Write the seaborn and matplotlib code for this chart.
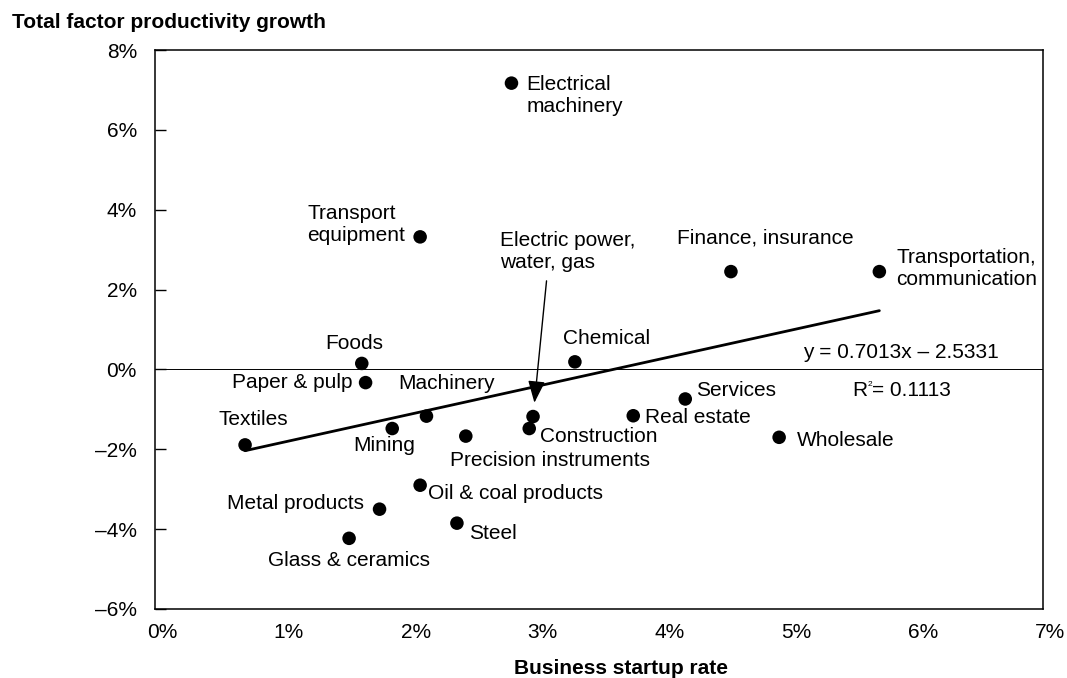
import numpy as np
import pandas as pd
import matplotlib
matplotlib.use("Agg")
import matplotlib.pyplot as plt
from matplotlib.ticker import FuncFormatter
from matplotlib.transforms import ScaledTranslation
import seaborn as sns

# Industry-level data (percent)
industries = [
    "Electrical\nmachinery", "Transport\nequipment", "Electric power,\nwater, gas",
    "Finance, insurance", "Transportation,\ncommunication", "Foods", "Paper & pulp",
    "Chemical", "Machinery", "Textiles", "Mining", "Precision instruments",
    "Construction", "Real estate", "Services", "Wholesale", "Oil & coal products",
    "Metal products", "Steel", "Glass & ceramics",
]
startup_rate = [2.81, 2.09, 2.98, 4.54, 5.71, 1.63, 1.66, 3.31, 2.14, 0.71,
                1.87, 2.45, 2.95, 3.77, 4.18, 4.92, 2.09, 1.77, 2.38, 1.53]
tfp_growth = [7.17, 3.32, -1.18, 2.45, 2.45, 0.15, -0.33, 0.19, -1.17, -1.89,
              -1.48, -1.67, -1.48, -1.16, -0.74, -1.70, -2.90, -3.50, -3.85, -4.23]

# Linear trend reported for the cross-section
slope = 0.7013
intercept = -2.5331
r_squared = 0.1113

x_ticks = [0, 1, 2, 3, 4, 5, 6, 7]
y_ticks = [-6, -4, -2, 0, 2, 4, 6, 8]

# Label placement: (dx, dy) in pixels from the marker, horizontal alignment
label_style = {
    "Electrical\nmachinery": (15, -12, "left"),
    "Transport\nequipment": (-15, 12, "right"),
    "Finance, insurance": (-54, 34, "left"),
    "Transportation,\ncommunication": (17, 3, "left"),
    "Foods": (-8, 20, "center"),
    "Paper & pulp": (-13, 0, "right"),
    "Chemical": (-12, 23, "left"),
    "Machinery": (-28, 33, "left"),
    "Textiles": (8, 25, "center"),
    "Mining": (-8, -17, "center"),
    "Precision instruments": (-16, -24, "left"),
    "Construction": (11, -8, "left"),
    "Real estate": (12, -2, "left"),
    "Services": (11, 8, "left"),
    "Wholesale": (18, -3, "left"),
    "Oil & coal products": (8, -8, "left"),
    "Metal products": (-16, 6, "right"),
    "Steel": (12, -10, "left"),
    "Glass & ceramics": (0, -22, "center"),
}

sns.set_theme(style="white")
plt.rcParams["font.family"] = ["Liberation Sans", "DejaVu Sans"]
plt.rcParams["text.color"] = "black"

W, H = 1067, 678
fig = plt.figure(figsize=(W / 100, H / 100), dpi=100)
fig.patch.set_facecolor("white")
ax = fig.add_axes([155 / W, 1 - 609 / H, (1043 - 155) / W, (609 - 50) / H])
ax.set_facecolor("white")

df = pd.DataFrame({"industry": industries, "rate": startup_rate, "tfp": tfp_growth})

# Zero reference line
ax.axhline(0, color="black", lw=0.7, zorder=1)

# Fitted trend over the observed range
xs = np.array([min(startup_rate), max(startup_rate)])
trend = pd.DataFrame({"x": xs, "y": slope * xs + intercept})
sns.lineplot(data=trend, x="x", y="y", ax=ax, color="black", lw=2.0, zorder=2)

sns.scatterplot(data=df, x="rate", y="tfp", ax=ax, color="black", s=95,
                edgecolor="none", linewidth=0, zorder=3, legend=False)

fs = 15
for name, xv, yv in zip(industries, startup_rate, tfp_growth):
    if name not in label_style:
        continue
    dx, dy, ha = label_style[name]
    ax.annotate(name, xy=(xv, yv), xytext=(dx, dy), textcoords="offset pixels",
                ha=ha, va="center", multialignment="left", fontsize=fs,
                color="black", zorder=4)

# Electric power label with pointer arrow
ep = industries.index("Electric power,\nwater, gas")
ax.annotate(industries[ep], xy=(startup_rate[ep], tfp_growth[ep]),
            xytext=(-33, 165), textcoords="offset pixels", ha="left", va="center",
            multialignment="left", fontsize=fs, color="black", zorder=4,
            arrowprops=dict(arrowstyle="-|>,head_length=0.9,head_width=0.35",
                            color="black", lw=1.0, relpos=(0.35, 0.0),
                            shrinkA=4, shrinkB=10))

# Trend equation and goodness of fit
ax.text((803 - 155) / 888, (609 - 353) / 559,
        f"y = {slope:.4f}x \u2013 {abs(intercept):.4f}", transform=ax.transAxes,
        ha="left", va="center", fontsize=fs, color="black")
ax.text((852 - 155) / 888, (609 - 390) / 559, "R", transform=ax.transAxes,
        ha="left", va="center", fontsize=fs, color="black")
ax.text((867.5 - 155) / 888, (609 - 385) / 559, "2", transform=ax.transAxes,
        ha="left", va="center", fontsize=6, color="black")
ax.text((872 - 155) / 888, (609 - 390) / 559, f"= {r_squared:.4f}",
        transform=ax.transAxes, ha="left", va="center", fontsize=fs, color="black")

ax.set_xlim(0, 7)
ax.set_ylim(-6, 8)
ax.set_xticks(x_ticks)
ax.set_yticks(y_ticks)
ax.xaxis.set_major_formatter(FuncFormatter(lambda v, p: f"{v:.0f}%"))
ax.yaxis.set_major_formatter(FuncFormatter(
    lambda v, p: ("\u2013" if v < 0 else "") + f"{abs(v):.0f}%"))
ax.tick_params(axis="y", direction="in", length=8, width=1.0, color="black",
               pad=13, labelsize=fs, labelcolor="black", left=True)
ax.tick_params(axis="x", length=0, pad=10, labelsize=fs, labelcolor="black")
shift = ScaledTranslation(7 / 100, 0, fig.dpi_scale_trans)
for lab in ax.get_xticklabels():
    lab.set_transform(lab.get_transform() + shift)

for sp in ax.spines.values():
    sp.set_visible(True)
    sp.set_color("black")
    sp.set_linewidth(1.1)

ax.set_xlabel("")
ax.set_ylabel("")
ax.grid(False)

fig.text(621 / W, 1 - 668 / H, "Business startup rate", ha="center", va="center",
         fontsize=fs, fontweight="bold", color="black")
fig.text(12 / W, 1 - 23 / H, "Total factor productivity growth", ha="left",
         va="center", fontsize=fs, fontweight="bold", color="black")

fig.savefig("out.png", dpi=100, facecolor="white")
